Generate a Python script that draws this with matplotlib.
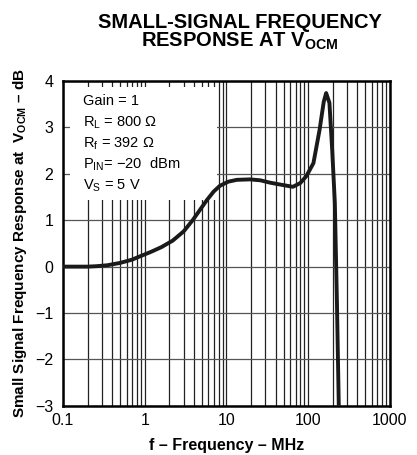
import matplotlib
matplotlib.use("Agg")
from matplotlib import pyplot as plt
from matplotlib.patches import Rectangle
from matplotlib.ticker import FixedLocator, LogLocator, NullFormatter

plt.rcParams['font.family'] = ['Liberation Sans', 'DejaVu Sans']
plt.rcParams['mathtext.fontset'] = 'custom'
plt.rcParams['mathtext.rm'] = 'Liberation Sans'
plt.rcParams['mathtext.bf'] = 'Liberation Sans:bold'

# curve (MHz, dB)
freq = [0.1, 0.15, 0.2, 0.26, 0.35, 0.5, 0.7, 0.87, 1.2, 1.6, 2.2, 3.0, 3.9,
        5.0, 5.8, 7.0, 8.3, 10.5, 13.4, 19.4, 26, 34, 45, 65, 80, 95, 116,
        138, 155, 166, 182, 197, 212, 225, 237]
gain = [0.0, 0.0, 0.0, 0.01, 0.03, 0.08, 0.15, 0.22, 0.32, 0.42, 0.56, 0.76, 1.01,
        1.28, 1.44, 1.62, 1.74, 1.83, 1.87, 1.88, 1.86, 1.81, 1.77, 1.72, 1.80, 1.95, 2.23,
        2.95, 3.55, 3.74, 3.53, 2.5, 1.38, -0.78, -3.01]

x_ticks = [0.1, 1, 10, 100, 1000]
x_labels = ["0.1", "1", "10", "100", "1000"]
y_ticks = [-3, -2, -1, 0, 1, 2, 3, 4]

notes = ["Gain = 1",
         r"R$_\mathregular{L}$ = 800 Ω",
         r"R$_\mathregular{f}$ = 392 Ω",
         r"P$_\mathregular{IN}$= −20  dBm",
         r"V$_\mathregular{S}$ = 5 V"]

fig = plt.figure(figsize=(4.17, 4.55), dpi=100)
ax = fig.add_axes([0.151, 0.108, 0.784, 0.714])

ax.set_xscale('log')
ax.set_xlim(0.1, 1000)
ax.set_ylim(-3, 4)

ax.xaxis.set_major_locator(FixedLocator(x_ticks))
ax.set_xticklabels(x_labels)
ax.xaxis.set_minor_locator(LogLocator(base=10, subs=range(2, 10)))
ax.xaxis.set_minor_formatter(NullFormatter())
ax.set_yticks(y_ticks)
ax.set_yticklabels([str(v).replace('-', '−') for v in y_ticks])

ax.grid(True, axis='x', which='both', color='#222222', linewidth=0.9)
ax.grid(True, axis='y', which='major', color='#555555', linewidth=0.9)
ax.set_axisbelow(True)
ax.tick_params(which='both', length=0, labelsize=11.5, pad=5)
ax.tick_params(axis='y', pad=7)

for s in ax.spines.values():
    s.set_linewidth(1.8)

# white box behind the notes
ax.add_patch(Rectangle((0.021, 0.634), 0.45, 0.348, transform=ax.transAxes,
                       facecolor='white', edgecolor='none', zorder=1.5))

ax.plot(freq, gain, color='#1a1a1a', linewidth=2.8, zorder=3)

y0 = 0.938
for i, t in enumerate(notes):
    ax.text(0.06, y0 - i * 0.065, t, transform=ax.transAxes, fontsize=10.5,
            va='center', ha='left', zorder=4)

fig.text(0.575, 0.928, "SMALL-SIGNAL FREQUENCY\nRESPONSE AT V$_\\mathbf{OCM}$",
         ha='center', va='center', fontsize=14.5, fontweight='bold', linespacing=0.9)

ax.set_xlabel("f – Frequency – MHz", fontsize=11.5, fontweight='bold', labelpad=7)
ax.set_ylabel("Small Signal Frequency Response at  V$_\\mathbf{OCM}$ – dB",
              fontsize=11, fontweight='bold', labelpad=4)

fig.savefig("out.png", dpi=100)
